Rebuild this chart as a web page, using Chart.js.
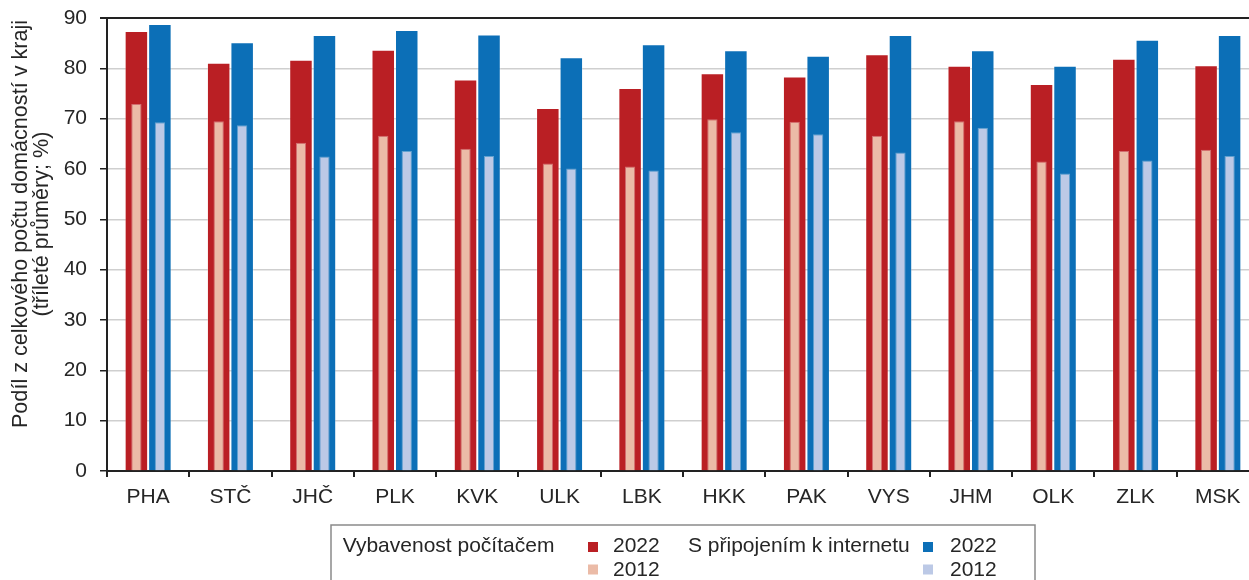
<!DOCTYPE html>
<html>
<head>
<meta charset="utf-8">
<script src="https://cdn.jsdelivr.net/npm/chart.js@4"></script>
<style>
html,body{margin:0;padding:0;overflow:hidden;background:#fff;}
#wrap{position:relative;width:1259px;height:580px;}
</style>
</head>
<body>
<div id="wrap"><canvas id="c" width="1259" height="580"></canvas></div>
<script>
const categories = ['PHA','STČ','JHČ','PLK','KVK','ULK','LBK','HKK','PAK','VYS','JHM','OLK','ZLK','MSK'];
const computer2022 = [87.4,81.1,81.7,83.7,77.8,72.1,76.1,79.0,78.4,82.8,80.5,76.9,81.9,80.6];
const computer2012 = [72.9,69.5,65.2,66.6,64.0,61.1,60.5,69.9,69.4,66.6,69.5,61.5,63.6,63.8];
const internet2022 = [88.8,85.2,86.6,87.6,86.7,82.2,84.8,83.6,82.5,86.6,83.6,80.5,85.7,86.6];
const internet2012 = [69.3,68.7,62.5,63.6,62.6,60.1,59.7,67.3,66.9,63.3,68.2,59.1,61.7,62.6];
const groupNames = ['Vybavenost počítačem','S připojením k internetu'];
const yearLabels = ['2022','2012'];
const yTitle = ['Podíl z celkového počtu domácností v kraji','(tříleté průměry; %)'];

const C_RED='#BA1F24', C_PINK='#EBBBA7', C_BLUE='#0C6FB7', C_LBLUE='#BCC9E6';
const FONT='"Liberation Sans", Arial, sans-serif';
const TXT='#262626';

Chart.defaults.font.family = FONT;
Chart.defaults.font.size = 21;
Chart.defaults.color = TXT;

const extras = {
  id:'extras',
  afterDraw(chart){
    const ctx = chart.ctx;
    ctx.save();
    ctx.fillStyle = TXT;
    // y title
    ctx.save();
    ctx.font = '21.6px ' + FONT;
    ctx.translate(26.7, 224);
    ctx.rotate(-Math.PI/2);
    ctx.textAlign='center';
    ctx.textBaseline='alphabetic';
    ctx.fillText(yTitle[0], 0, 0);
    ctx.fillText(yTitle[1], 0, 21.5);
    ctx.restore();
    ctx.font = '21px ' + FONT;
    // legend box
    ctx.strokeStyle='#8a8a8a';
    ctx.lineWidth=1.5;
    ctx.beginPath();
    ctx.moveTo(331, 582); ctx.lineTo(331, 525); ctx.lineTo(1035, 525); ctx.lineTo(1035, 582);
    ctx.stroke();
    ctx.textAlign='left';
    ctx.textBaseline='alphabetic';
    ctx.fillText(groupNames[0], 342.7, 552);
    ctx.fillText(groupNames[1], 688, 552);
    const items = [
      [588, 542, C_RED, 613, 552, yearLabels[0]],
      [588, 564.5, C_PINK, 613, 576, yearLabels[1]],
      [923, 542, C_BLUE, 950, 552, yearLabels[0]],
      [923, 564.5, C_LBLUE, 950, 576, yearLabels[1]]
    ];
    for (const it of items){
      ctx.fillStyle = it[2];
      ctx.fillRect(it[0], it[1], 10, 10);
      ctx.fillStyle = TXT;
      ctx.fillText(it[5], it[3], it[4]);
    }
    ctx.restore();
  }
};

new Chart(document.getElementById('c'), {
  type:'bar',
  data:{
    labels: categories,
    datasets:[
      {label:groupNames[0]+' '+yearLabels[0], data:computer2022, backgroundColor:C_RED, borderColor:'rgba(255,255,255,0.28)', borderWidth:1, stack:'comp', categoryPercentage:0.571, barPercentage:1.0, order:2},
      {label:groupNames[1]+' '+yearLabels[0], data:internet2022, backgroundColor:C_BLUE, borderColor:'rgba(255,255,255,0.28)', borderWidth:1, stack:'net', categoryPercentage:0.571, barPercentage:1.0, order:2},
      {label:groupNames[0]+' '+yearLabels[1], data:computer2012, backgroundColor:C_PINK, borderColor:'rgba(255,255,255,0.35)', borderWidth:1, stack:'comp', categoryPercentage:0.571, barPercentage:0.44, order:1},
      {label:groupNames[1]+' '+yearLabels[1], data:internet2012, backgroundColor:C_LBLUE, borderColor:'rgba(255,255,255,0.35)', borderWidth:1, stack:'net', categoryPercentage:0.571, barPercentage:0.44, order:1}
    ]
  },
  options:{
    responsive:false,
    animation:false,
    layout:{padding:{top:18,left:0,right:0,bottom:0}},
    plugins:{legend:{display:false}, tooltip:{enabled:false}, title:{display:false}},
    scales:{
      x:{
        type:'category',
        position:'bottom',
        offset:true,
        grid:{display:true, drawOnChartArea:false, drawTicks:true, tickLength:6, tickColor:'#222', lineWidth:2, offset:true},
        border:{display:true, color:'#222', width:2},
        ticks:{padding:8, color:TXT, font:{size:21}, maxRotation:0, autoSkip:false},
        afterFit(s){ s.height = 109; s.paddingLeft = 0; s.paddingRight = 0; }
      },
      y:{
        min:0, max:90,
        stacked:false,
        ticks:{stepSize:10, padding:13, color:TXT, font:{size:21}},
        grid:{
          color:(c)=> (c.tick && c.tick.value===90) ? '#222' : '#cfcfcf',
          lineWidth:(c)=> (c.tick && c.tick.value===90) ? 2 : 1.5,
          tickColor:'#222', tickLength:7, drawTicks:true
        },
        border:{display:true, color:'#222', width:2},
        afterFit(s){ s.width = 107; s.paddingTop = 0; s.paddingBottom = 0; }
      }
    }
  },
  plugins:[extras]
});
</script>
</body>
</html>
